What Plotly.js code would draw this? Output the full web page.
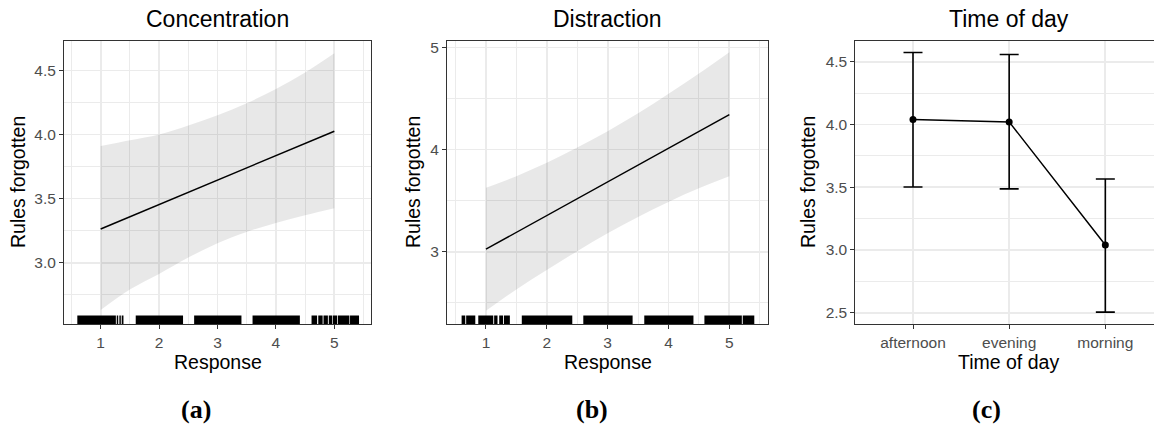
<!DOCTYPE html>
<html><head><meta charset="utf-8">
<script src="https://cdn.plot.ly/plotly-3.0.1.min.js"></script>
<style>body{margin:0;background:#fff} #chart{width:1154px;height:429px}</style>
</head><body><div id="chart"></div>
<script>
// ---- data ----
const bandX = [1, 1.5, 2, 2.5, 3, 3.5, 4, 4.5, 5];
const fitX = [1, 5];

const concFit = [3.263, 4.026];
const concUpper = [3.91, 3.955, 4.00, 4.07, 4.15, 4.245, 4.355, 4.485, 4.635];
const concLower = [2.63, 2.79, 2.912, 3.04, 3.152, 3.24, 3.31, 3.37, 3.425];

const distFit = [3.024, 4.343];
const distUpper = [3.625, 3.74, 3.87, 4.02, 4.18, 4.355, 4.546, 4.745, 4.954];
const distLower = [2.42, 2.63, 2.82, 3.005, 3.18, 3.34, 3.487, 3.62, 3.738];

// rug: observed-response ranges (start, end) along x
const concRug = [[0.60,1.26],[1.275,1.30],[1.32,1.345],[1.36,1.39],[1.60,2.41],[2.60,3.41],[3.60,4.41],
  [4.61,4.705],[4.725,4.80],[4.815,4.89],[4.905,4.96],[4.972,5.05],[5.063,5.258],[5.269,5.423]];
const distRug = [[0.60,0.66],[0.675,0.825],[0.874,1.12],[1.135,1.19],[1.218,1.28],[1.295,1.393],
  [1.589,2.419],[2.60,3.41],[3.602,4.41],[4.59,5.205],[5.22,5.41]];

const timeCats = ['afternoon', 'evening', 'morning'];
const timeMean = [4.04, 4.021, 3.04];
const timeUpper = [4.574, 4.558, 3.566];
const timeLower = [3.502, 3.487, 2.505];

const xTicks = [1, 2, 3, 4, 5];
const concYTicks = [3.0, 3.5, 4.0, 4.5];
const distYTicks = [3, 4, 5];
const timeYTicks = [2.5, 3.0, 3.5, 4.0, 4.5];

const panelTitles = ['Concentration', 'Distraction', 'Time of day'];
const xTitles = ['Response', 'Response', 'Time of day'];
const yTitle = 'Rules forgotten';
const panelLabels = ['(a)', '(b)', '(c)'];

// ---- helpers ----
const W = 1154, H = 429;
const px = v => v / W;
const py = v => (H - v) / H;

function rugTrace(segs, xa, ya) {
  const x = [], y = [];
  segs.forEach(([a, b]) => { x.push(a, b, b, a, a, null); y.push(0, 0, 0.03, 0.03, 0, null); });
  return {x, y, xaxis: xa, yaxis: ya, type: 'scatter', mode: 'lines', fill: 'toself',
    fillcolor: '#000', line: {width: 0, color: '#000'}, hoverinfo: 'skip', showlegend: false};
}
function bandTraces(lo, hi, fit, xa, ya) {
  return [
    {x: bandX, y: lo, xaxis: xa, yaxis: ya, mode: 'lines', line: {width: 0, shape: 'spline'}, showlegend: false, hoverinfo: 'skip'},
    {x: bandX, y: hi, xaxis: xa, yaxis: ya, mode: 'lines', line: {width: 0, shape: 'spline'}, fill: 'tonexty',
      fillcolor: 'rgba(0,0,0,0.09)', showlegend: false, hoverinfo: 'skip'},
    {x: fitX, y: fit, xaxis: xa, yaxis: ya, mode: 'lines', line: {color: '#000', width: 1.5}, showlegend: false}
  ];
}

const traces = [
  ...bandTraces(concLower, concUpper, concFit, 'x', 'y'),
  rugTrace(concRug, 'x', 'y4'),
  ...bandTraces(distLower, distUpper, distFit, 'x2', 'y2'),
  rugTrace(distRug, 'x2', 'y5'),
  {x: timeCats, y: timeMean, xaxis: 'x3', yaxis: 'y3', type: 'scatter', mode: 'lines+markers',
    line: {color: '#000', width: 1.5}, marker: {color: '#000', size: 7},
    error_y: {type: 'data', symmetric: false,
      array: timeUpper.map((u, i) => u - timeMean[i]),
      arrayminus: timeLower.map((l, i) => timeMean[i] - l),
      color: '#000', thickness: 1.6, width: 9.5},
    showlegend: false}
];

const grid = '#ebebeb';
const tickFont = {family: 'Liberation Sans, Arial, sans-serif', size: 15.5, color: '#4d4d4d'};
function xAxis(domain, range, extra) {
  return Object.assign({domain, range, showline: true, linecolor: '#333333', linewidth: 1, mirror: true,
    ticks: 'outside', ticklen: 4, tickcolor: '#333333', tickwidth: 1, tickfont: tickFont,
    showgrid: true, gridcolor: grid, gridwidth: 1.8, zeroline: false, fixedrange: true}, extra);
}
function yAxis(domain, range, extra) {
  return Object.assign({domain, range, showline: true, linecolor: '#333333', linewidth: 1, mirror: true,
    ticks: 'outside', ticklen: 4, tickcolor: '#333333', tickwidth: 1, tickfont: tickFont,
    showgrid: true, gridcolor: grid, gridwidth: 1.8, zeroline: false, fixedrange: true}, extra);
}
const yDom = [py(324), py(40.5)];
const dA = [px(64), px(371)], dB = [px(447), px(768.3)], dC = [px(855.3), 1];

const layout = {
  width: W, height: H, margin: {l: 0, r: 0, t: 0, b: 0}, paper_bgcolor: '#fff', plot_bgcolor: '#fff',
  font: {family: 'Liberation Sans, Arial, sans-serif'},
  xaxis: xAxis(dA, [0.372, 5.628], {anchor: 'y', tickvals: xTicks,
    minor: {dtick: 1, tick0: 0.5, showgrid: true, gridcolor: grid, gridwidth: 1, ticks: ''}}),
  yaxis: yAxis(yDom, [2.521, 4.734], {anchor: 'x', tickvals: concYTicks, tickformat: '.1f',
    minor: {dtick: 0.5, tick0: 2.75, showgrid: true, gridcolor: grid, gridwidth: 1, ticks: ''}}),
  xaxis2: xAxis(dB, [0.36, 5.64], {anchor: 'y2', tickvals: xTicks,
    minor: {dtick: 1, tick0: 0.5, showgrid: true, gridcolor: grid, gridwidth: 1, ticks: ''}}),
  yaxis2: yAxis(yDom, [2.291, 5.069], {anchor: 'x2', tickvals: distYTicks, tickformat: 'd',
    minor: {dtick: 1, tick0: 2.5, showgrid: true, gridcolor: grid, gridwidth: 1, ticks: ''}}),
  xaxis3: xAxis(dC, [-0.6, 2.506], {anchor: 'y3', type: 'category', categoryarray: timeCats}),
  yaxis3: yAxis(yDom, [2.41, 4.67], {anchor: 'x3', mirror: false, tickvals: timeYTicks, tickformat: '.1f',
    minor: {dtick: 0.5, tick0: 2.75, showgrid: true, gridcolor: grid, gridwidth: 1, ticks: ''}}),
  yaxis4: {overlaying: 'y', anchor: 'x', range: [0, 1], visible: false, fixedrange: true},
  yaxis5: {overlaying: 'y2', anchor: 'x2', range: [0, 1], visible: false, fixedrange: true},
  annotations: []
};

const centers = [(64 + 371) / 2, (447 + 768.3) / 2, 1009];
const yTitleX = [18, 413, 808];
const labelX = [196, 592, 986];
for (let i = 0; i < 3; i++) {
  layout.annotations.push({text: panelTitles[i], xref: 'paper', yref: 'paper', x: px(centers[i]), y: py(19),
    xanchor: 'center', yanchor: 'middle', showarrow: false, font: {size: 23, color: '#000'}});
  layout.annotations.push({text: xTitles[i], xref: 'paper', yref: 'paper', x: px(centers[i]), y: py(362),
    xanchor: 'center', yanchor: 'middle', showarrow: false, font: {size: 19.5, color: '#000'}});
  layout.annotations.push({text: yTitle, xref: 'paper', yref: 'paper', x: px(yTitleX[i]), y: py(182),
    xanchor: 'center', yanchor: 'middle', textangle: -90, showarrow: false, font: {size: 19.5, color: '#000'}});
  layout.annotations.push({text: '<b>' + panelLabels[i] + '</b>', xref: 'paper', yref: 'paper', x: px(labelX[i]), y: py(409),
    xanchor: 'center', yanchor: 'middle', showarrow: false,
    font: {family: 'Liberation Serif, Times New Roman, serif', size: 26, color: '#000'}});
}

Plotly.newPlot('chart', traces, layout, {staticPlot: true, displayModeBar: false});
</script>
</body></html>
